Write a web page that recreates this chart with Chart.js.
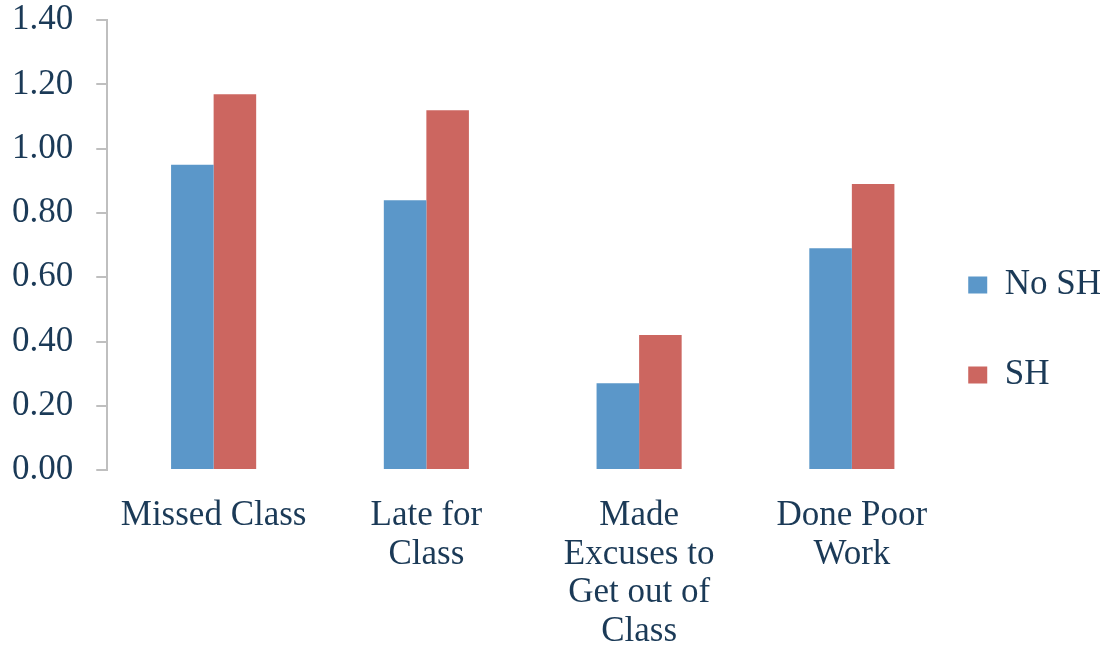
<!DOCTYPE html>
<html>
<head>
<meta charset="utf-8">
<script src="https://cdn.jsdelivr.net/npm/chart.js@4"></script>
<style>
  html, body { margin: 0; padding: 0; background: #fff; }
  #wrap { width: 1104px; height: 655px; }
</style>
</head>
<body>
<div id="wrap"><canvas id="chart"></canvas></div>
<script>
const categories = [
  ["Missed Class"],
  ["Late for", "Class"],
  ["Made", "Excuses to", "Get out of", "Class"],
  ["Done Poor", "Work"],
];
const seriesNames = ["No SH", "SH"];
const noSH = [0.95, 0.84, 0.27, 0.69];
const sh = [1.17, 1.12, 0.42, 0.89];

const serif = '"Liberation Serif", "Times New Roman", serif';
const textColor = "#1b3a57";
const axisGrey = "#bfbfbf";

const ctx = document.getElementById("chart");

const chart = new Chart(ctx, {
  type: "bar",
  data: {
    labels: categories,
    datasets: [
      {
        label: seriesNames[0],
        data: noSH,
        backgroundColor: "#5b97c9",
        borderWidth: 0,
      },
      {
        label: seriesNames[1],
        data: sh,
        backgroundColor: "#cc6660",
        borderWidth: 0,
      },
    ],
  },
  options: {
    responsive: true,
    maintainAspectRatio: false,
    animation: false,
    barPercentage: 1,
    categoryPercentage: 0.4,
    layout: {
      // negative bottom/right just eat the extra padding chart.js reserves
      padding: { left: 12, top: 0, right: -7, bottom: -23 },
    },
    scales: {
      x: {
        grid: { display: false, drawTicks: false },
        border: { display: false },
        ticks: {
          color: textColor,
          padding: 27,
          maxRotation: 0,
          autoSkip: false,
          font: { family: serif, size: 35, lineHeight: 1.1 },
        },
      },
      y: {
        min: 0,
        max: 1.4,
        grid: {
          display: true,
          drawOnChartArea: false,
          drawTicks: true,
          tickLength: 11,
          color: axisGrey,
          lineWidth: 2,
        },
        border: { display: true, color: axisGrey, width: 2 },
        ticks: {
          stepSize: 0.2,
          color: textColor,
          padding: 11.5,
          crossAlign: "far",
          font: { family: serif, size: 35, lineHeight: 0.5 },
          callback: function (value) {
            return Number(value).toFixed(2);
          },
        },
      },
    },
    plugins: {
      tooltip: { enabled: false },
      legend: {
        display: true,
        position: "right",
        // empty title only pushes the items down a bit
        title: {
          display: true,
          text: " ",
          font: { size: 12, lineHeight: 1.2 },
          padding: { top: 6, bottom: 6.6 },
        },
        labels: {
          color: textColor,
          boxWidth: 19,
          boxHeight: 17,
          padding: 10,
          font: { family: serif, size: 35, lineHeight: "40px" },
          generateLabels: function (chart) {
            const items = Chart.defaults.plugins.legend.labels.generateLabels(chart);
            return items.map(function (item) {
              item.text = [item.text, ""];
              item.lineWidth = 0;
              return item;
            });
          },
        },
      },
    },
  },
});
</script>
</body>
</html>
